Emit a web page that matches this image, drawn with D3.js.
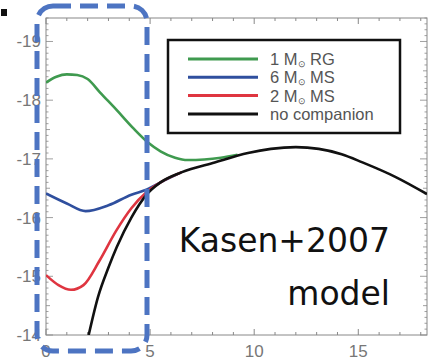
<!DOCTYPE html>
<html>
<head>
<meta charset="utf-8">
<script src="https://cdn.jsdelivr.net/npm/d3@7"></script>
<style>
  body { margin: 0; background: #fff; }
  svg { display: block; }
</style>
</head>
<body>
<svg id="chart" width="434" height="361"></svg>
<script>
// light curves: days vs magnitude
const rgDays = [0, 0.5, 1, 1.5, 2, 2.6, 3.4, 4.2, 4.9, 5.5, 6.2, 6.8, 7.6, 8.4, 9.2]
const rgMag = [-18.3, -18.4, -18.44, -18.43, -18.36, -18.13, -17.83, -17.52, -17.28, -17.13, -17.02, -16.98, -16.99, -17.02, -17.07]

const ms6Days = [0, 1, 1.9, 3, 4.1, 4.85, 5.5, 6.5]
const ms6Mag = [-16.41, -16.24, -16.11, -16.21, -16.39, -16.48, -16.6, -16.77]

const ms2Days = [0, 0.6, 1.2, 1.8, 2.56, 3.36, 4.1, 4.85, 5.5, 6.5]
const ms2Mag = [-15.02, -14.85, -14.77, -14.85, -15.26, -15.77, -16.16, -16.44, -16.6, -16.77]

const noneDays = [2.05, 2.5, 3.0, 3.4, 4.1, 4.85, 5.5, 6.5, 8.1, 9.7, 10.8, 12, 13.1, 14.2, 15.2, 16.8, 18.3]
const noneMag = [-14, -14.65, -15.15, -15.5, -16.0, -16.4, -16.6, -16.77, -16.94, -17.1, -17.17, -17.2, -17.17, -17.08, -16.94, -16.69, -16.4]

const xTicks = [0, 5, 10, 15]
const yTicks = [-19, -18, -17, -16, -15, -14]
const legendLabels = [
    { n: '1', sub: '\u2299', rest: 'RG' },
    { n: '6', sub: '\u2299', rest: 'MS' },
    { n: '2', sub: '\u2299', rest: 'MS' },
    { text: 'no companion' }
]
const colors = ['#3f9a4f', '#2f4f9e', '#df3540', '#111111']

const svg = d3.select('#chart')
const plotLeft = 46, plotRight = 427, plotTop = 18, plotBottom = 335

const x = d3.scaleLinear().domain([0, 18.3]).range([plotLeft, plotRight])
const y = d3.scaleLinear().domain([-14, -19.4]).range([plotBottom, plotTop])

// frame
svg.append('rect')
    .attr('x', plotLeft).attr('y', plotTop)
    .attr('width', plotRight - plotLeft).attr('height', plotBottom - plotTop)
    .attr('fill', 'none').attr('stroke', '#888').attr('stroke-width', 1)

const tickColor = '#888'
const g = svg.append('g')

// x ticks (bottom and top, pointing in)
d3.range(0, 19, 1).forEach(t => {
    const len = t % 5 === 0 ? 6 : 3
    g.append('line').attr('x1', x(t)).attr('x2', x(t)).attr('y1', plotBottom).attr('y2', plotBottom - len).attr('stroke', tickColor)
    g.append('line').attr('x1', x(t)).attr('x2', x(t)).attr('y1', plotTop).attr('y2', plotTop + len).attr('stroke', tickColor)
})
// y ticks (left and right)
d3.range(-194, -139, 1).forEach(k => {
    const v = k / 10
    const len = k % 10 === 0 ? 7 : (k % 5 === 0 ? 4 : 2.5)
    g.append('line').attr('x1', plotLeft).attr('x2', plotLeft + len).attr('y1', y(v)).attr('y2', y(v)).attr('stroke', tickColor).attr('stroke-width', 0.8)
    g.append('line').attr('x1', plotRight).attr('x2', plotRight - len).attr('y1', y(v)).attr('y2', y(v)).attr('stroke', tickColor).attr('stroke-width', 0.8)
})

svg.selectAll('.xl').data(xTicks).enter().append('text')
    .attr('x', d => x(d)).attr('y', 357)
    .attr('text-anchor', 'middle')
    .attr('font-family', 'Liberation Sans, Arial, sans-serif')
    .attr('font-size', 17).attr('fill', '#777')
    .text(d => d)

svg.selectAll('.yl').data(yTicks).enter().append('text')
    .attr('x', 41).attr('y', d => y(d) + 6)
    .attr('text-anchor', 'end')
    .attr('font-family', 'Liberation Sans, Arial, sans-serif')
    .attr('font-size', 17).attr('fill', '#777')
    .text(d => d)

// curves
const series = [
    [rgDays, rgMag],
    [ms6Days, ms6Mag],
    [ms2Days, ms2Mag],
    [noneDays, noneMag]
]
const line = d3.line().x(d => x(d[0])).y(d => y(d[1])).curve(d3.curveMonotoneX)
svg.append('clipPath').attr('id', 'plot').append('rect')
    .attr('x', plotLeft).attr('y', plotTop).attr('width', plotRight - plotLeft).attr('height', plotBottom - plotTop)
svg.append('g').attr('clip-path', 'url(#plot)')
    .selectAll('path').data(series).enter().append('path')
    .attr('d', s => line(s[0].map((t, i) => [t, s[1][i]])))
    .attr('fill', 'none')
    .attr('stroke', (d, i) => colors[i])
    .attr('stroke-width', 2.6)
    .attr('stroke-linejoin', 'round')

// legend
svg.append('rect')
    .attr('x', 168).attr('y', 40).attr('width', 232).attr('height', 93)
    .attr('fill', '#fff').attr('stroke', '#111').attr('stroke-width', 2.5)
legendLabels.forEach((lab, i) => {
    const ly = 59 + i * 18.3
    svg.append('line').attr('x1', 188).attr('x2', 258).attr('y1', ly).attr('y2', ly)
        .attr('stroke', colors[i]).attr('stroke-width', 3)
    const t = svg.append('text').attr('x', 270).attr('y', ly + 6)
        .attr('font-family', 'Liberation Sans, Arial, sans-serif')
        .attr('font-size', 16.5).attr('fill', '#555')
    if (lab.text) {
        t.text(lab.text)
    } else {
        t.append('tspan').text(lab.n + ' M')
        t.append('tspan').attr('font-size', 9).attr('dy', 2).text(lab.sub)
        t.append('tspan').attr('dy', -2).text('\u00a0' + lab.rest)
    }
})

// annotation
svg.append('text').attr('x', 390).attr('y', 252).attr('text-anchor', 'end')
    .attr('font-family', 'DejaVu Sans, sans-serif').attr('font-size', 33).attr('fill', '#111')
    .text('Kasen+2007')
svg.append('text').attr('x', 390).attr('y', 305).attr('text-anchor', 'end')
    .attr('font-family', 'DejaVu Sans, sans-serif').attr('font-size', 33).attr('fill', '#111')
    .text('model')

// small mark top-left
svg.append('rect').attr('x', 1).attr('y', 9).attr('width', 6).attr('height', 7).attr('fill', '#111')

// dashed highlight box
svg.append('rect')
    .attr('x', 37).attr('y', 6).attr('width', 110).attr('height', 345)
    .attr('rx', 16).attr('ry', 16)
    .attr('fill', 'none').attr('stroke', '#4d74c2').attr('stroke-width', 5)
    .attr('stroke-dasharray', '18,9')
</script>
</body>
</html>
